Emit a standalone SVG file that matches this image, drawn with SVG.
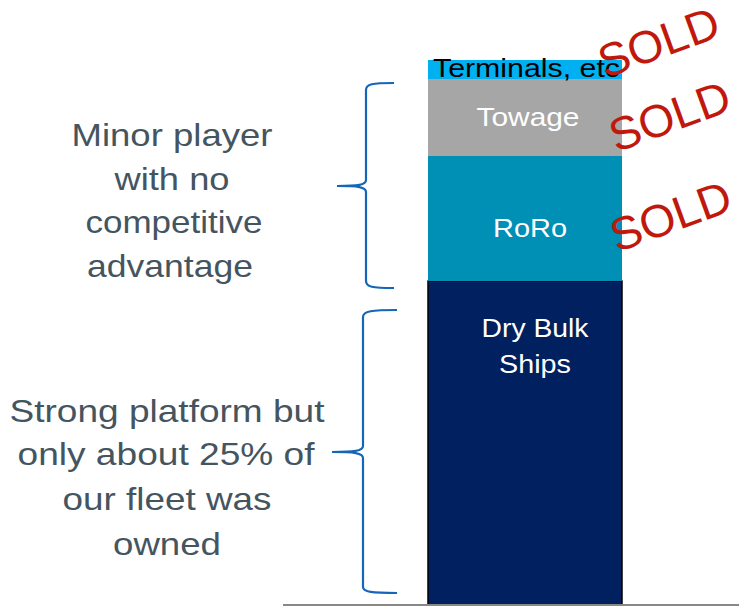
<svg xmlns="http://www.w3.org/2000/svg" width="739" height="607" viewBox="0 0 739 607">
<style>
.lbl{font-family:"Liberation Sans",Arial,sans-serif;fill:#45555F;font-size:32px;text-anchor:middle}
.bar{font-family:"Liberation Sans",Arial,sans-serif;fill:#fff;font-size:26px;text-anchor:middle}
.sold{font-family:"Liberation Sans",Arial,sans-serif;fill:#C0180C;font-size:46px;text-anchor:middle}
.brace{fill:none;stroke:#1565B8;stroke-width:2.2}
</style>
<rect width="739" height="607" fill="#fff"/>
<g id="bar-drybulk"><rect x="428" y="281" width="194" height="324" fill="#002060" stroke="#000" stroke-width="1.5"/><text class="bar" x="535" y="337" textLength="107" lengthAdjust="spacingAndGlyphs">Dry Bulk</text><text class="bar" x="535" y="373" textLength="72" lengthAdjust="spacingAndGlyphs">Ships</text></g>
<g id="bar-roro"><rect x="428" y="156" width="194" height="125" fill="#008FB5"/><text class="bar" x="530" y="237" textLength="74" lengthAdjust="spacingAndGlyphs">RoRo</text></g>
<g id="bar-towage"><rect x="428" y="79" width="194" height="77" fill="#A6A6A6"/><text class="bar" x="528" y="126" textLength="103" lengthAdjust="spacingAndGlyphs">Towage</text></g>
<g id="bar-terminals"><rect x="428" y="60" width="194" height="19" fill="#00B0F0"/><text x="433" y="77" font-family="Liberation Sans,Arial,sans-serif" font-size="25" fill="#000" textLength="187" lengthAdjust="spacingAndGlyphs">Terminals, etc</text></g>
<g id="axis"><line x1="283" y1="605" x2="739" y2="605" stroke="#888" stroke-width="2"/></g>
<g id="sold1"><text class="sold" transform="translate(664,57) rotate(-20)">SOLD</text></g>
<g id="sold2"><text class="sold" transform="translate(675,131) rotate(-20)">SOLD</text></g>
<g id="sold3"><text class="sold" transform="translate(676,231) rotate(-20)">SOLD</text></g>
<g id="connectors">
<path class="brace" d="M394,83 C372,83 366,84 366,90 L366,180 C366,185 358,186 337,186 C358,186 366,187 366,192 L366,281 C366,287 372,288 394,288"/>
<path class="brace" d="M397,310 C372,310 363,311 363,317 L363,446 C363,451 354,452 332,452 C354,452 363,453 363,458 L363,587 C363,592 372,593 397,593"/>
</g>
<g id="text-minor">
<text class="lbl" x="172" y="146" textLength="201" lengthAdjust="spacingAndGlyphs">Minor player</text>
<text class="lbl" x="172" y="190" textLength="115" lengthAdjust="spacingAndGlyphs">with no</text>
<text class="lbl" x="174" y="233" textLength="177" lengthAdjust="spacingAndGlyphs">competitive</text>
<text class="lbl" x="170" y="277" textLength="166" lengthAdjust="spacingAndGlyphs">advantage</text>
</g>
<g id="text-strong">
<text class="lbl" x="167" y="422" textLength="315" lengthAdjust="spacingAndGlyphs">Strong platform but</text>
<text class="lbl" x="166" y="465" textLength="297" lengthAdjust="spacingAndGlyphs">only about 25% of</text>
<text class="lbl" x="167" y="510" textLength="209" lengthAdjust="spacingAndGlyphs">our fleet was</text>
<text class="lbl" x="167" y="555" textLength="108" lengthAdjust="spacingAndGlyphs">owned</text>
</g>
</svg>
